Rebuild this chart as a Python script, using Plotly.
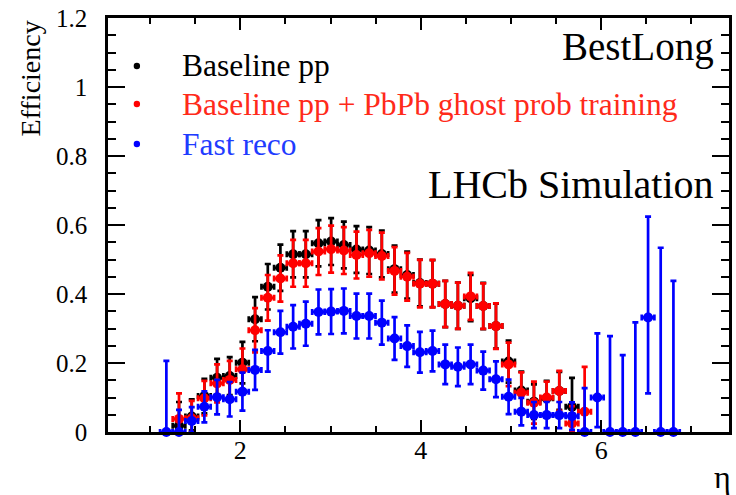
import plotly.graph_objects as go

# ---------------- data ----------------
eta = [1.180, 1.320, 1.461, 1.601, 1.742, 1.882, 2.023, 2.163, 2.304, 2.444,
       2.585, 2.725, 2.866, 3.006, 3.147, 3.287, 3.428, 3.568, 3.709, 3.849,
       3.990, 4.130, 4.271, 4.411, 4.552, 4.692, 4.833, 4.973, 5.114, 5.254,
       5.395, 5.535, 5.676, 5.816, 5.957, 6.097, 6.238, 6.378, 6.519, 6.659,
       6.800]

N = None
eff_baseline = [N, 0.018, 0.045, 0.104, 0.157, 0.162, 0.201, 0.327, 0.421, 0.476,
                0.515, 0.515, 0.547, 0.552, 0.542, 0.529, 0.526, 0.516, 0.472, 0.455,
                0.432, 0.430, 0.371, 0.366, 0.388, 0.365, 0.307, 0.204, 0.120, 0.088,
                0.098, 0.119, 0.073, N, N, N, N, N, N, N,
                N]
up_baseline = [N, 0.069, 0.050, 0.050, 0.055, 0.055, 0.060, 0.064, 0.066, 0.067,
               0.067, 0.067, 0.067, 0.068, 0.068, 0.068, 0.068, 0.068, 0.068, 0.068,
               0.068, 0.068, 0.067, 0.067, 0.067, 0.067, 0.065, 0.061, 0.055, 0.050,
               0.050, 0.055, 0.084, N, N, N, N, N, N, N,
               N]
dn_baseline = [N, 0.018, 0.040, 0.050, 0.055, 0.055, 0.060, 0.064, 0.066, 0.067,
               0.067, 0.067, 0.067, 0.068, 0.068, 0.068, 0.068, 0.068, 0.068, 0.068,
               0.068, 0.068, 0.067, 0.067, 0.067, 0.067, 0.065, 0.061, 0.055, 0.050,
               0.050, 0.055, 0.050, N, N, N, N, N, N, N,
               N]

eff_pbpb = [N, 0.038, 0.040, 0.098, 0.141, 0.151, 0.182, 0.295, 0.389, 0.445,
            0.489, 0.489, 0.523, 0.530, 0.526, 0.513, 0.518, 0.510, 0.467, 0.450,
            0.430, 0.430, 0.371, 0.366, 0.393, 0.365, 0.307, 0.196, 0.114, 0.085,
            0.100, 0.119, 0.025, 0.059, N, N, N, N, N, N,
            N]
up_pbpb = [N, 0.074, 0.050, 0.050, 0.055, 0.055, 0.060, 0.064, 0.066, 0.067,
           0.068, 0.068, 0.068, 0.068, 0.068, 0.068, 0.068, 0.068, 0.069, 0.069,
           0.069, 0.069, 0.067, 0.067, 0.068, 0.066, 0.066, 0.063, 0.059, 0.061,
           0.046, 0.058, 0.050, 0.130, N, N, N, N, N, N,
           N]
dn_pbpb = [N, 0.038, 0.040, 0.050, 0.055, 0.055, 0.060, 0.064, 0.066, 0.067,
           0.068, 0.068, 0.068, 0.068, 0.068, 0.068, 0.068, 0.068, 0.069, 0.069,
           0.069, 0.069, 0.067, 0.067, 0.068, 0.066, 0.066, 0.063, 0.059, 0.061,
           0.046, 0.058, 0.025, 0.059, N, N, N, N, N, N,
           N]

eff_fast = [0.0, 0.0, 0.032, 0.073, 0.101, 0.095, 0.117, 0.180, 0.235, 0.289,
            0.305, 0.314, 0.348, 0.349, 0.351, 0.336, 0.336, 0.317, 0.271, 0.249,
            0.231, 0.235, 0.196, 0.189, 0.196, 0.178, 0.153, 0.102, 0.059, 0.049,
            0.049, 0.049, 0.046, 0.0, 0.100, 0.0, 0.0, 0.0, 0.332, 0.0,
            0.0]
up_fast = [0.206, 0.064, 0.040, 0.045, 0.050, 0.050, 0.055, 0.058, 0.060, 0.062,
           0.063, 0.064, 0.065, 0.065, 0.065, 0.065, 0.065, 0.064, 0.062, 0.060,
           0.059, 0.059, 0.057, 0.056, 0.057, 0.055, 0.052, 0.050, 0.040, 0.038,
           0.038, 0.038, 0.040, 0.127, 0.186, 0.278, 0.223, 0.318, 0.292, 0.534,
           0.438]
dn_fast = [0.0, 0.0, 0.032, 0.045, 0.050, 0.050, 0.055, 0.058, 0.060, 0.062,
           0.063, 0.064, 0.065, 0.065, 0.065, 0.065, 0.065, 0.064, 0.062, 0.060,
           0.059, 0.059, 0.057, 0.056, 0.057, 0.055, 0.052, 0.050, 0.040, 0.038,
           0.038, 0.038, 0.040, 0.0, 0.086, 0.0, 0.0, 0.0, 0.220, 0.0,
           0.0]

bin_half_width = 0.07

series = [
    ("Baseline pp", eff_baseline, up_baseline, dn_baseline, "#000000", "#000000"),
    ("Baseline pp + PbPb ghost prob training", eff_pbpb, up_pbpb, dn_pbpb, "#ff0000", "#ff2a1a"),
    ("Fast reco", eff_fast, up_fast, dn_fast, "#0000ff", "#1f3cff"),
]

FONT = "Liberation Serif"

# plot-area geometry in px
L, R, T, B = 108, 4, 18, 63
W, H = 736, 495
PW, PH = W - L - R, H - T - B

def px_to_paper(px, py):
    return (px - L) / PW, (H - B - py) / PH

fig = go.Figure()
for name, vals, up, dn, col, _ in series:
    xs, ys, us, ds = [], [], [], []
    for xv, yv, u, d in zip(eta, vals, up, dn):
        if yv is None:
            continue
        xs.append(xv); ys.append(yv); us.append(u); ds.append(d)
    fig.add_trace(go.Scatter(
        x=xs, y=ys, mode="markers", name=name, showlegend=False,
        cliponaxis=False,
        marker=dict(color=col, size=10, line=dict(width=0)),
        error_y=dict(type="data", symmetric=False, array=us, arrayminus=ds,
                     color=col, thickness=2.7, width=3),
        error_x=dict(type="data", array=[bin_half_width] * len(xs),
                     color=col, thickness=2.7, width=3),
    ))

annotations = []
shapes = []
# legend
rows_y = [66, 104, 144]
for (name, _, _, _, col, tcol), ry in zip(series, rows_y):
    xp, yp = px_to_paper(180, ry)
    annotations.append(dict(x=xp, y=yp, xref="paper", yref="paper", text=name,
                            showarrow=False, xanchor="left", yanchor="middle",
                            font=dict(family=FONT, size=31.5, color=tcol)))
    r = 3.2
    shapes.append(dict(type="circle", xref="paper", yref="paper",
                       x0=(137 - r - L) / PW, x1=(137 + r - L) / PW,
                       y0=(H - B - ry - r) / PH, y1=(H - B - ry + r) / PH,
                       fillcolor=col, line=dict(width=0)))

for txt, py, sz in [("BestLong", 47, 39), ("LHCb Simulation", 184, 40)]:
    xp, yp = px_to_paper(719, py)
    annotations.append(dict(x=xp, y=yp, xref="paper", yref="paper", text=txt,
                            showarrow=False, xanchor="right", yanchor="middle",
                            font=dict(family=FONT, size=sz, color="black")))

# axis titles
xp, yp = px_to_paper(30, 18)
annotations.append(dict(x=xp, y=1.0, xref="paper", yref="paper", text="Efficiency",
                        textangle=-90, showarrow=False, xanchor="center", yanchor="top",
                        font=dict(family=FONT, size=28, color="black")))
xp, yp = px_to_paper(736, 477)
annotations.append(dict(x=xp, y=yp, xref="paper", yref="paper", text="η",
                        showarrow=False, xanchor="right", yanchor="middle",
                        font=dict(family=FONT, size=32, color="black")))

fig.update_layout(
    width=W, height=H,
    margin=dict(l=L, r=R, t=T, b=B),
    paper_bgcolor="white", plot_bgcolor="white",
    showlegend=False,
    annotations=annotations, shapes=shapes,
    font=dict(family=FONT, color="black"),
)
fig.update_xaxes(
    range=[0.533, 7.416], showgrid=False, zeroline=False,
    showline=True, linecolor="black", linewidth=2.5, mirror="allticks",
    ticks="inside", ticklen=12, tickwidth=2, tickcolor="black",
    tick0=0, dtick=2,
    minor=dict(ticks="inside", ticklen=6, tickwidth=2, tickcolor="black", dtick=0.5, tick0=0, showgrid=False),
    tickfont=dict(family=FONT, size=26, color="black"),
    ticklabelstandoff=-7,
)
fig.update_yaxes(
    range=[0, 1.2], showgrid=False, zeroline=False,
    showline=True, linecolor="black", linewidth=2.5, mirror="allticks",
    ticks="inside", ticklen=17, tickwidth=2, tickcolor="black",
    tick0=0, dtick=0.2,
    minor=dict(ticks="inside", ticklen=8, tickwidth=2, tickcolor="black", dtick=0.05, tick0=0, showgrid=False),
    tickfont=dict(family=FONT, size=25, color="black"),
    ticklabelstandoff=13,
)

fig.write_html("out.html")
